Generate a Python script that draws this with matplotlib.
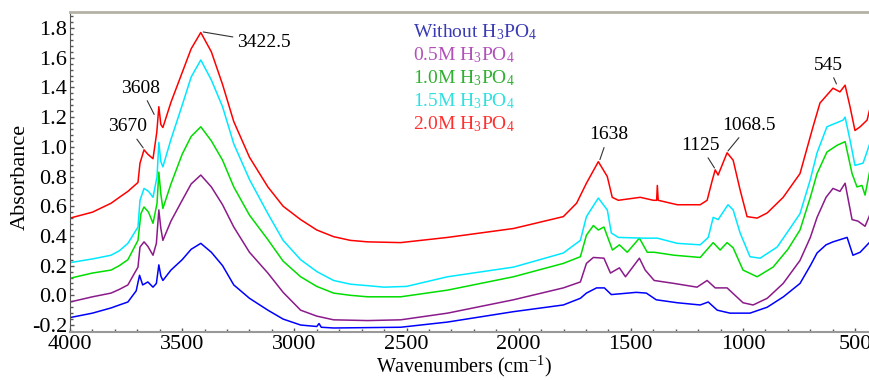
"""
FTIR spectra of the samples prepared with increasing H3PO4 concentration,
with the main absorption bands labelled.
"""

# Imports - general
import matplotlib
matplotlib.use('Agg')
import matplotlib.pyplot as plt
from matplotlib.ticker import MultipleLocator

# settings
plt.rcParams['font.family'] = ['Liberation Serif', 'DejaVu Serif']
plt.rcParams['mathtext.fontset'] = 'custom'
plt.rcParams['mathtext.rm'] = 'Liberation Serif'
plt.rcParams['mathtext.default'] = 'regular'
plt.rcParams['axes.unicode_minus'] = False

# data: wavenumber (cm-1) and absorbance
wn_blue = [4000, 3900, 3817, 3780, 3742, 3705, 3690, 3676, 3653, 3630, 3615,
           3604, 3595, 3586, 3550, 3500, 3460, 3417, 3370, 3320, 3270, 3200,
           3118, 3050, 2972, 2900, 2890, 2880, 2825, 2526, 2317, 2023, 1801,
           1725, 1698, 1653, 1618, 1587, 1476, 1431, 1387, 1293, 1191, 1155,
           1115, 1058, 969, 892, 820, 746, 700, 670, 630, 599, 536, 510, 478,
           434]
abs_blue = [-0.15, -0.12, -0.085, -0.065, -0.045, 0.03, 0.135, 0.07, 0.09,
            0.055, 0.08, 0.205, 0.13, 0.10, 0.17, 0.24, 0.31, 0.35, 0.29, 0.20,
            0.07, -0.02, -0.10, -0.16, -0.20, -0.21, -0.19, -0.215, -0.22,
            -0.215, -0.18, -0.11, -0.065, -0.02, 0.015, 0.05, 0.05, 0.005, 0.02,
            0.015, -0.03, -0.05, -0.065, -0.045, -0.10, -0.12, -0.12, -0.08,
            -0.01, 0.08, 0.20, 0.285, 0.34, 0.36, 0.39, 0.27, 0.29, 0.36]

wn_purple = [4000, 3900, 3817, 3780, 3742, 3697, 3688, 3670, 3653, 3630, 3615,
             3604, 3595, 3586, 3550, 3500, 3460, 3417, 3370, 3320, 3270, 3200,
             3118, 3050, 2972, 2900, 2825, 2673, 2526, 2317, 2023, 1801, 1725,
             1698, 1667, 1620, 1591, 1551, 1524, 1462, 1436, 1396, 1307, 1205,
             1160, 1124, 1071, 1000, 955, 892, 821, 746, 700, 670, 630, 599,
             568, 545, 514, 488, 456, 434]
abs_purple = [-0.045, -0.01, 0.015, 0.04, 0.07, 0.19, 0.325, 0.36, 0.33, 0.27,
              0.35, 0.575, 0.45, 0.37, 0.50, 0.64, 0.75, 0.81, 0.73, 0.61, 0.46,
              0.29, 0.15, 0.02, -0.10, -0.14, -0.165, -0.17, -0.165, -0.12,
              -0.03, 0.05, 0.09, 0.215, 0.255, 0.25, 0.15, 0.185, 0.125, 0.25,
              0.17, 0.10, 0.08, 0.055, 0.10, 0.05, 0.05, -0.05, -0.065, -0.02,
              0.08, 0.235, 0.39, 0.525, 0.66, 0.72, 0.70, 0.755, 0.51, 0.50,
              0.465, 0.545]

wn_green = [4000, 3900, 3817, 3780, 3742, 3697, 3684, 3670, 3650, 3630, 3612,
            3604, 3595, 3586, 3550, 3500, 3460, 3417, 3370, 3320, 3270, 3200,
            3118, 3050, 2972, 2900, 2825, 2750, 2673, 2526, 2317, 2023, 1801,
            1725, 1698, 1667, 1645, 1620, 1582, 1551, 1516, 1462, 1427, 1396,
            1307, 1191, 1133, 1102, 1071, 1044, 1000, 937, 866, 800, 746, 700,
            670, 626, 581, 545, 514, 492, 470, 456, 434]
abs_green = [0.115, 0.15, 0.17, 0.20, 0.24, 0.37, 0.55, 0.595, 0.56, 0.485,
             0.62, 0.83, 0.68, 0.585, 0.75, 0.95, 1.07, 1.135, 1.04, 0.91, 0.73,
             0.54, 0.375, 0.23, 0.125, 0.06, 0.015, 0.0, -0.01, -0.01, 0.035,
             0.125, 0.215, 0.26, 0.405, 0.47, 0.44, 0.46, 0.305, 0.34, 0.29,
             0.385, 0.29, 0.29, 0.27, 0.255, 0.355, 0.305, 0.355, 0.32, 0.17,
             0.125, 0.19, 0.31, 0.44, 0.66, 0.82, 0.965, 1.01, 1.035, 0.82,
             0.73, 0.74, 0.675, 0.845]

wn_cyan = [4000, 3900, 3817, 3780, 3742, 3697, 3688, 3670, 3650, 3630, 3612,
           3604, 3595, 3586, 3550, 3500, 3460, 3417, 3370, 3320, 3270, 3200,
           3118, 3050, 2972, 2900, 2825, 2750, 2673, 2600, 2500, 2317, 2023,
           1801, 1725, 1698, 1645, 1605, 1587, 1556, 1445, 1382, 1293, 1191,
           1155, 1133, 1111, 1067, 1044, 1013, 969, 924, 848, 800, 746, 700,
           670, 626, 554, 545, 523, 501, 465, 434]
abs_cyan = [0.22, 0.245, 0.27, 0.30, 0.35, 0.46, 0.64, 0.72, 0.70, 0.66, 0.80,
            1.03, 0.90, 0.865, 1.05, 1.28, 1.47, 1.585, 1.45, 1.27, 1.02, 0.78,
            0.55, 0.37, 0.24, 0.16, 0.10, 0.075, 0.065, 0.055, 0.06, 0.125,
            0.19, 0.285, 0.37, 0.53, 0.655, 0.575, 0.42, 0.39, 0.385, 0.385,
            0.35, 0.34, 0.39, 0.525, 0.51, 0.61, 0.575, 0.42, 0.26, 0.25, 0.325,
            0.43, 0.55, 0.78, 0.96, 1.135, 1.18, 1.20, 1.045, 0.875, 0.89,
            1.025]

wn_red = [4000, 3900, 3817, 3780, 3742, 3697, 3688, 3670, 3653, 3630, 3613,
          3604, 3595, 3586, 3550, 3500, 3460, 3417, 3370, 3320, 3270, 3200,
          3118, 3050, 2972, 2900, 2825, 2750, 2673, 2526, 2317, 2023, 1801,
          1742, 1698, 1645, 1605, 1583, 1556, 1458, 1400, 1385, 1382, 1378,
          1293, 1191, 1160, 1137, 1124, 1111, 1071, 1044, 1013, 982, 937, 892,
          821, 746, 688, 657, 599, 568, 545, 523, 501, 478, 447, 434]
abs_red = [0.52, 0.56, 0.62, 0.66, 0.70, 0.76, 0.89, 0.98, 0.95, 0.92, 1.10,
           1.27, 1.15, 1.13, 1.30, 1.50, 1.66, 1.77, 1.64, 1.42, 1.17, 0.93,
           0.73, 0.60, 0.51, 0.44, 0.395, 0.37, 0.36, 0.355, 0.39, 0.45, 0.53,
           0.62, 0.755, 0.90, 0.80, 0.66, 0.64, 0.66, 0.64, 0.64, 0.74, 0.64,
           0.61, 0.61, 0.64, 0.775, 0.845, 0.81, 0.96, 0.91, 0.71, 0.53, 0.52,
           0.555, 0.66, 0.82, 1.135, 1.295, 1.395, 1.37, 1.415, 1.27, 1.11,
           1.135, 1.18, 1.26]

series_wn = [wn_blue, wn_purple, wn_green, wn_cyan, wn_red]
series_abs = [abs_blue, abs_purple, abs_green, abs_cyan, abs_red]
series_labels = ['Without H$_3$PO$_4$', '0.5M H$_3$PO$_4$', '1.0M H$_3$PO$_4$',
                 '1.5M H$_3$PO$_4$', '2.0M H$_3$PO$_4$']
line_colors = ['#0000ff', '#8b1a8b', '#00dd00', '#00e8ff', '#ff0000']
label_colors = ['#3a3ab4', '#b050b8', '#30b030', '#30e0e0', '#ff3030']

# band labels: text, marked point, text position
band_text = ['3422.5', '3608', '3670', '1638', '1125', '1068.5', '545']
band_wn = [3412, 3622, 3670, 1640, 1124, 1071, 581]
band_abs = [1.775, 1.21, 0.985, 0.905, 0.85, 0.965, 1.415]
band_text_wn = [3136, 3684, 3742, 1600, 1191, 973, 621]
band_text_abs = [1.705, 1.395, 1.135, 1.08, 1.01, 1.145, 1.55]


def main():
    fig = plt.figure(figsize=(8.7, 3.8), dpi=100)
    ax = fig.add_axes([70 / 870, 48 / 380, 800 / 870, 320 / 380])

    # spectra
    for wn, ab, col in zip(series_wn, series_abs, line_colors):
        ax.plot(wn, ab, color=col, lw=1.1)

    # band labels
    for txt, x, y, xt, yt in zip(band_text, band_wn, band_abs,
                                 band_text_wn, band_text_abs):
        ax.annotate(txt, xy=(x, y), xytext=(xt, yt), ha='center', va='center',
                    fontsize=14,
                    arrowprops=dict(arrowstyle='-', color='#333333', lw=0.8,
                                    shrinkA=1, shrinkB=1))

    # legend as coloured text
    for ii, (lab, col) in enumerate(zip(series_labels, label_colors)):
        fig.text(413 / 870, 1 - (31.7 + 23 * ii) / 380, lab, color=col,
                 fontsize=14, ha='left', va='center')

    # axes
    ax.set_xlim(4000, 434)
    ax.set_ylim(-0.247, 1.908)
    ax.xaxis.set_major_locator(MultipleLocator(500))
    ax.xaxis.set_minor_locator(MultipleLocator(100))
    ax.yaxis.set_major_locator(MultipleLocator(0.2))
    ax.yaxis.set_minor_locator(MultipleLocator(0.04))
    ax.yaxis.set_major_formatter(plt.FuncFormatter(lambda v, p: f"{v:.1f}"))
    ax.tick_params(axis='both', which='both', direction='in', labelsize=16,
                   pad=2, colors='#555555', labelcolor='black')
    ax.tick_params(axis='both', which='major', length=3, width=1)
    ax.tick_params(axis='both', which='minor', length=2.5, width=1)

    ax.spines['right'].set_visible(False)
    ax.spines['top'].set_color('#b4b2a6')
    ax.spines['top'].set_linewidth(2)
    ax.spines['left'].set_color('#555555')
    ax.spines['bottom'].set_color('#999999')
    ax.spines['bottom'].set_linewidth(1.5)

    ax.set_ylabel('Absorbance', fontsize=16)
    ax.yaxis.set_label_coords(-0.05, 0.484)
    ax.set_xlabel('Wavenumbers (cm$^{-1}$)', fontsize=14.5)
    ax.xaxis.set_label_coords(0.4925, -0.068)

    fig.savefig('out.png', dpi=100)
    plt.close('all')


if __name__ == "__main__":
    main()
